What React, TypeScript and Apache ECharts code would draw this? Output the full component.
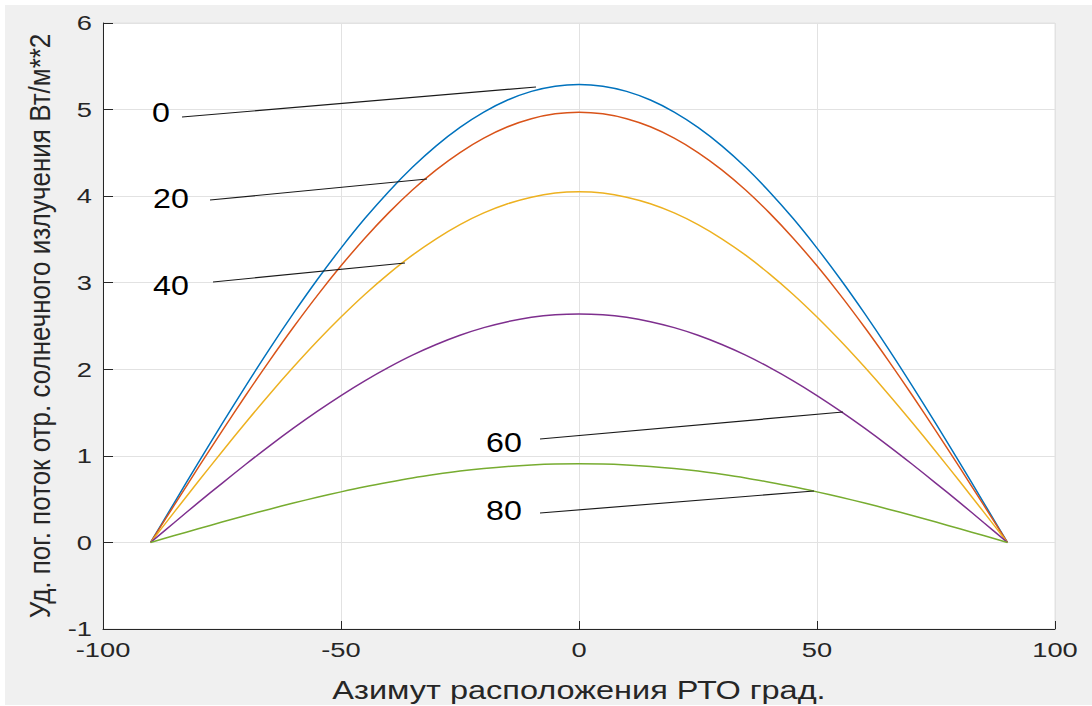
import React, { useEffect, useRef } from "react";
import * as echarts from "echarts";

// Azimuth of the RTO, degrees
const azimuth = [
  -90, -85, -80, -75, -70, -65, -60, -55, -50, -45, -40, -35, -30, -25, -20, -15, -10, -5,
  0, 5, 10, 15, 20, 25, 30, 35, 40, 45, 50, 55, 60, 65, 70, 75, 80, 85, 90,
];

const seriesNames = ["0", "20", "40", "60", "80"];

const flux0 = [
  0, 0.461, 0.919, 1.369, 1.809, 2.236, 2.645, 3.034, 3.4, 3.741, 4.052, 4.333, 4.581, 4.794, 4.971, 5.11, 5.21, 5.27,
  5.29, 5.27, 5.21, 5.11, 4.971, 4.794, 4.581, 4.333, 4.052, 3.741, 3.4, 3.034, 2.645, 2.236, 1.809, 1.369, 0.919, 0.461, 0,
];
const flux20 = [
  0, 0.433, 0.863, 1.286, 1.7, 2.1, 2.485, 2.851, 3.195, 3.514, 3.807, 4.071, 4.304, 4.504, 4.67, 4.801, 4.894, 4.951,
  4.97, 4.951, 4.894, 4.801, 4.67, 4.504, 4.304, 4.071, 3.807, 3.514, 3.195, 2.851, 2.485, 2.1, 1.7, 1.286, 0.863, 0.433, 0,
];
const flux40 = [
  0, 0.353, 0.703, 1.048, 1.385, 1.712, 2.025, 2.323, 2.603, 2.864, 3.102, 3.318, 3.507, 3.671, 3.806, 3.912, 3.988, 4.035,
  4.05, 4.035, 3.988, 3.912, 3.806, 3.671, 3.507, 3.318, 3.102, 2.864, 2.603, 2.323, 2.025, 1.712, 1.385, 1.048, 0.703, 0.353, 0,
];
const flux60 = [
  0, 0.23, 0.46, 0.683, 0.903, 1.116, 1.32, 1.514, 1.697, 1.867, 2.022, 2.163, 2.286, 2.393, 2.481, 2.55, 2.6, 2.63,
  2.64, 2.63, 2.6, 2.55, 2.481, 2.393, 2.286, 2.163, 2.022, 1.867, 1.697, 1.514, 1.32, 1.116, 0.903, 0.683, 0.46, 0.23, 0,
];
const flux80 = [
  0, 0.079, 0.158, 0.235, 0.311, 0.384, 0.455, 0.521, 0.584, 0.643, 0.696, 0.745, 0.787, 0.824, 0.854, 0.878, 0.895, 0.906,
  0.909, 0.906, 0.895, 0.878, 0.854, 0.824, 0.787, 0.745, 0.696, 0.643, 0.584, 0.521, 0.455, 0.384, 0.311, 0.235, 0.158, 0.079, 0,
];

const xTickValues = [-100, -50, 0, 50, 100];
const xTickLabels = ["-100", "-50", "0", "50", "100"];
const yTickValues = [-1, 0, 1, 2, 3, 4, 5, 6];
const yTickLabels = ["-1", "0", "1", "2", "3", "4", "5", "6"];

const xTitle = "Азимут расположения РТО град.";
const yTitle = "Уд. пог. поток отр. солнечного излучения Вт/м**2";

const colors = ["#0072BD", "#D95319", "#EDB120", "#7E2F8E", "#77AC30"];
const FONT = "'Liberation Sans', Arial, Helvetica, sans-serif";
const AX = "#262626";

export default function App() {
  const ref = useRef<HTMLDivElement>(null);

  useEffect(() => {
    document.body.style.margin = "0";
    const chart = echarts.init(ref.current!, null, { renderer: "svg" });
    const all = [flux0, flux20, flux40, flux60, flux80];

    chart.setOption({
      animation: false,
      backgroundColor: "#f0f0f0",
      grid: {
        left: 98,
        top: 18,
        width: 952,
        height: 606,
        show: true,
        backgroundColor: "#ffffff",
        borderColor: "#e2e2e2",
        borderWidth: 1,
      },
      xAxis: {
        type: "value",
        min: -100,
        max: 100,
        interval: 50,
        axisLine: { show: true, onZero: false, lineStyle: { color: AX, width: 1 } },
        axisTick: { show: true, inside: true, length: 8, lineStyle: { color: AX } },
        axisLabel: { show: false },
        splitLine: { show: true, lineStyle: { color: "#e2e2e2", width: 1 } },
      },
      yAxis: {
        type: "value",
        min: -1,
        max: 6,
        interval: 1,
        axisLine: { show: true, onZero: false, lineStyle: { color: AX, width: 1 } },
        axisTick: { show: true, inside: true, length: 10, lineStyle: { color: AX } },
        axisLabel: { show: false },
        splitLine: { show: true, lineStyle: { color: "#e2e2e2", width: 1 } },
      },
      series: all.map((vals, i) => ({
        name: seriesNames[i],
        type: "line",
        showSymbol: false,
        symbol: "none",
        smooth: 0.3,
        data: azimuth.map((a, j) => [a, vals[j]]),
        lineStyle: { color: colors[i], width: 1.5 },
        itemStyle: { color: colors[i] },
        z: 3,
      })),
    });

    const px = (v: number) => chart.convertToPixel({ xAxisIndex: 0 }, v) as number;
    const py = (v: number) => chart.convertToPixel({ yAxisIndex: 0 }, v) as number;
    const axisY = py(-1);
    const axisX = px(-100);

    const graphics: any[] = [];
    xTickValues.forEach((v, i) => {
      graphics.push({
        type: "text",
        x: px(v),
        y: axisY + 21,
        scaleX: 1.3,
        style: { text: xTickLabels[i], font: `21px ${FONT}`, fill: AX, align: "center", verticalAlign: "middle" },
      });
    });
    yTickValues.forEach((v, i) => {
      graphics.push({
        type: "text",
        x: axisX - 11,
        y: py(v),
        scaleX: 1.3,
        style: { text: yTickLabels[i], font: `21px ${FONT}`, fill: AX, align: "right", verticalAlign: "middle" },
      });
    });
    graphics.push({
      type: "text",
      x: px(0),
      y: 685,
      scaleX: 1.3,
      style: { text: xTitle, font: `25px ${FONT}`, fill: AX, align: "center", verticalAlign: "middle" },
    });
    graphics.push({
      type: "text",
      x: 35,
      y: 321,
      rotation: Math.PI / 2,
      scaleY: 1.1,
      style: { text: yTitle, font: `26px ${FONT}`, fill: AX, align: "center", verticalAlign: "middle" },
    });

    const annotations = [
      { t: "0", tx: 156, ty: 107, l: [177, 112, 531, 82] },
      { t: "20", tx: 166, ty: 193, l: [205, 195, 422, 174] },
      { t: "40", tx: 166, ty: 280, l: [208, 277, 400, 258] },
      { t: "60", tx: 499, ty: 437, l: [535, 434, 838, 407] },
      { t: "80", tx: 499, ty: 505, l: [535, 508, 809, 486] },
    ];
    annotations.forEach((a) => {
      graphics.push({
        type: "text",
        x: a.tx,
        y: a.ty,
        scaleX: 1.15,
        z: 10,
        style: { text: a.t, font: `28px ${FONT}`, fill: "#000", align: "center", verticalAlign: "middle" },
      });
      graphics.push({
        type: "line",
        z: 10,
        shape: { x1: a.l[0], y1: a.l[1], x2: a.l[2], y2: a.l[3] },
        style: { stroke: "#1a1a1a", lineWidth: 1.2 },
      });
    });

    chart.setOption({ graphic: graphics });
    return () => chart.dispose();
  }, []);

  return (
    <div style={{ width: 1092, height: 706, background: "#ffffff", position: "relative" }}>
      <div ref={ref} style={{ position: "absolute", left: 5, top: 5, width: 1087, height: 700 }} />
    </div>
  );
}
